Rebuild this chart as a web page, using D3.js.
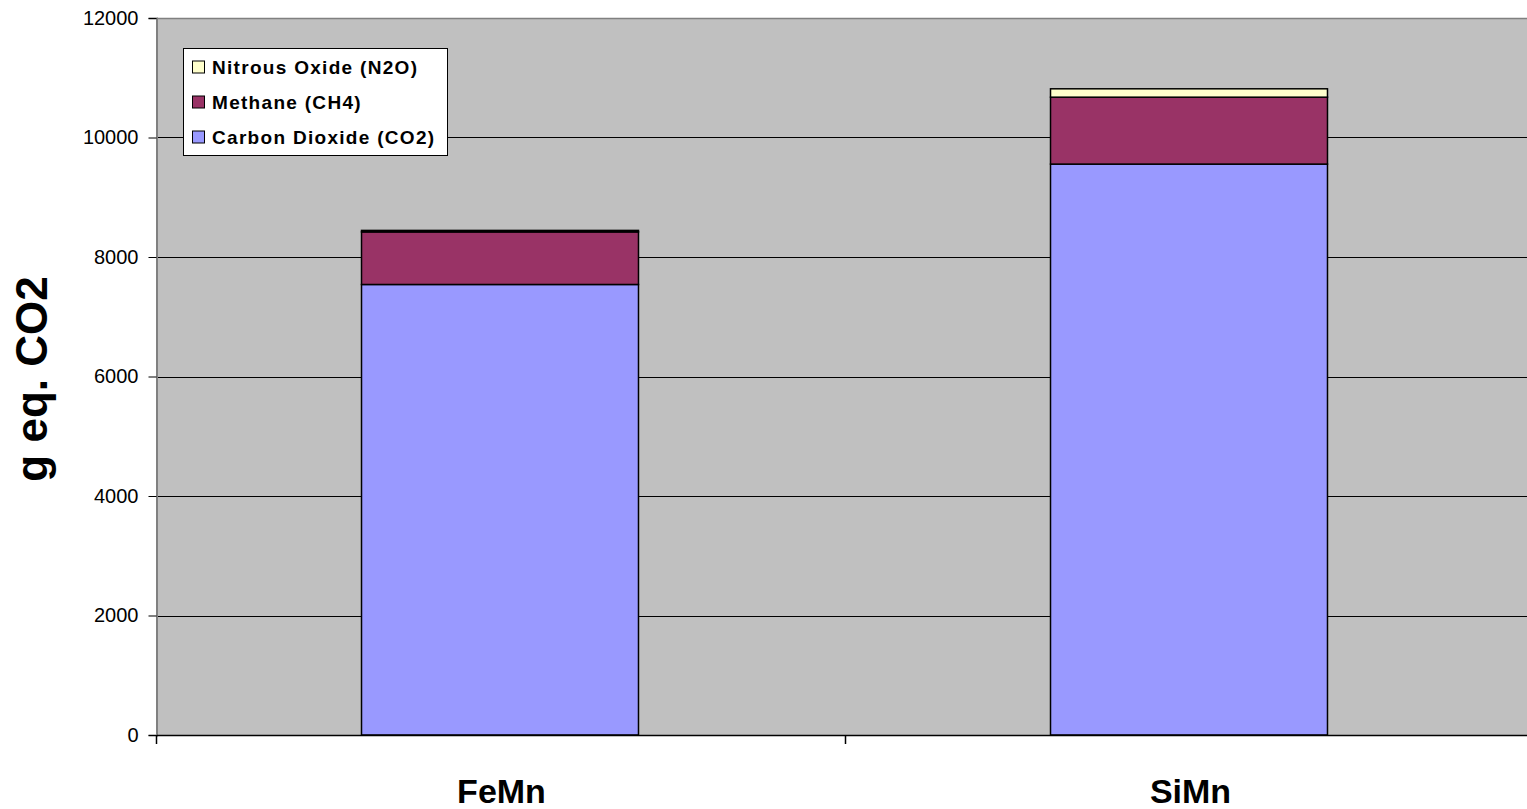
<!DOCTYPE html>
<html>
<head>
<meta charset="utf-8">
<script src="https://cdn.jsdelivr.net/npm/d3@7"></script>
<style>
  html, body { margin: 0; padding: 0; background: #fff; }
  svg { display: block; }
</style>
</head>
<body>
<svg id="chart" width="1527" height="809"></svg>
<script>
// Greenhouse gas emissions per alloy, in g eq. CO2
const categories = ["FeMn", "SiMn"];
const co2 = [7540, 9555];
const ch4 = [880, 1120];
const n2o = [25, 140];
const yTicks = [0, 2000, 4000, 6000, 8000, 10000, 12000];

const series = [
  { name: "Carbon Dioxide (CO2)", values: co2, color: "#9999ff" },
  { name: "Methane (CH4)", values: ch4, color: "#993366" },
  { name: "Nitrous Oxide (N2O)", values: n2o, color: "#ffffcc" }
];

const FONT = "Liberation Sans, Arial, sans-serif";
const svg = d3.select("#chart");
const plot = { left: 157, right: 1535, top: 18, bottom: 735 };

const x = d3.scaleBand().domain(categories).range([plot.left, plot.right]).paddingInner(0).paddingOuter(0);
const y = d3.scaleLinear().domain([0, 12000]).range([plot.bottom, plot.top]);

// plot background
svg.append("rect")
  .attr("x", plot.left).attr("y", plot.top)
  .attr("width", plot.right - plot.left).attr("height", plot.bottom - plot.top)
  .attr("fill", "#c0c0c0");
svg.append("line")
  .attr("x1", plot.left).attr("x2", plot.right)
  .attr("y1", plot.top + 0.5).attr("y2", plot.top + 0.5)
  .attr("stroke", "#808080").attr("stroke-width", 1.5);

// horizontal gridlines
svg.append("g").selectAll("line")
  .data(yTicks.filter(d => d > 0 && d < 12000))
  .join("line")
  .attr("x1", plot.left).attr("x2", plot.right)
  .attr("y1", d => Math.round(y(d)) + 0.5).attr("y2", d => Math.round(y(d)) + 0.5)
  .attr("stroke", "#000").attr("stroke-width", 1);

// stacked bars
const stackData = categories.map((c, i) => {
  const o = { cat: c };
  series.forEach(s => o[s.name] = s.values[i]);
  return o;
});
const stacked = d3.stack().keys(series.map(s => s.name))(stackData);
const barW = x.bandwidth() * 0.402;

svg.append("g").selectAll("g")
  .data(stacked)
  .join("g")
  .attr("fill", (d, i) => series[i].color)
  .selectAll("rect")
  .data(d => d)
  .join("rect")
  .attr("x", d => x(d.data.cat) + (x.bandwidth() - barW) / 2 - 1.5)
  .attr("width", barW)
  .attr("y", d => y(d[1]))
  .attr("height", d => y(d[0]) - y(d[1]))
  .attr("stroke", "#000")
  .attr("stroke-width", 1.5);

// y axis
const yAxis = d3.axisLeft(y).tickValues(yTicks).tickSize(8).tickPadding(10).tickFormat(d3.format("d"));
const gy = svg.append("g").attr("transform", `translate(${plot.left - 0.5},0)`).call(yAxis);
gy.select(".domain").attr("stroke", "#808080").attr("stroke-width", 2);
gy.selectAll(".tick line").attr("stroke", "#000");
gy.selectAll(".tick text")
  .attr("font-family", FONT)
  .attr("font-size", 20).attr("fill", "#000");

// x axis baseline and category ticks
svg.append("line")
  .attr("x1", plot.left).attr("x2", plot.right)
  .attr("y1", plot.bottom + 0.5).attr("y2", plot.bottom + 0.5)
  .attr("stroke", "#000").attr("stroke-width", 1.5);
const boundaries = [plot.left, ...categories.map(c => x(c) + x.bandwidth())];
svg.append("g").selectAll("line")
  .data(boundaries)
  .join("line")
  .attr("x1", d => d - 0.5).attr("x2", d => d - 0.5)
  .attr("y1", plot.bottom).attr("y2", plot.bottom + 9)
  .attr("stroke", "#000").attr("stroke-width", 1.5);

svg.append("g").selectAll("text")
  .data(categories)
  .join("text")
  .attr("x", d => x(d) + x.bandwidth() / 2)
  .attr("y", 803)
  .attr("text-anchor", "middle")
  .attr("font-family", FONT)
  .attr("font-weight", "bold")
  .attr("font-size", 34)
  .text(d => d);

// y axis title
svg.append("text")
  .attr("transform", "translate(47,379) rotate(-90)")
  .attr("text-anchor", "middle")
  .attr("font-family", FONT)
  .attr("font-weight", "bold")
  .attr("font-size", 44)
  .text("g eq. CO2");

// legend
const legend = svg.append("g");
legend.append("rect")
  .attr("x", 183.5).attr("y", 48.5).attr("width", 264).attr("height", 107)
  .attr("fill", "#fff").attr("stroke", "#000").attr("stroke-width", 1);
const legendItems = series.slice().reverse();
const rows = legend.selectAll("g.item")
  .data(legendItems)
  .join("g")
  .attr("class", "item")
  .attr("transform", (d, i) => `translate(0,${73.5 + i * 35})`);
rows.append("rect")
  .attr("x", 192.5).attr("y", -12.5).attr("width", 12).attr("height", 12)
  .attr("fill", d => d.color).attr("stroke", "#000").attr("stroke-width", 1);
rows.append("text")
  .attr("x", 212).attr("y", 0)
  .attr("font-family", FONT)
  .attr("font-weight", "bold")
  .attr("font-size", 19)
  .attr("letter-spacing", 1.3)
  .text(d => d.name);
</script>
</body>
</html>
